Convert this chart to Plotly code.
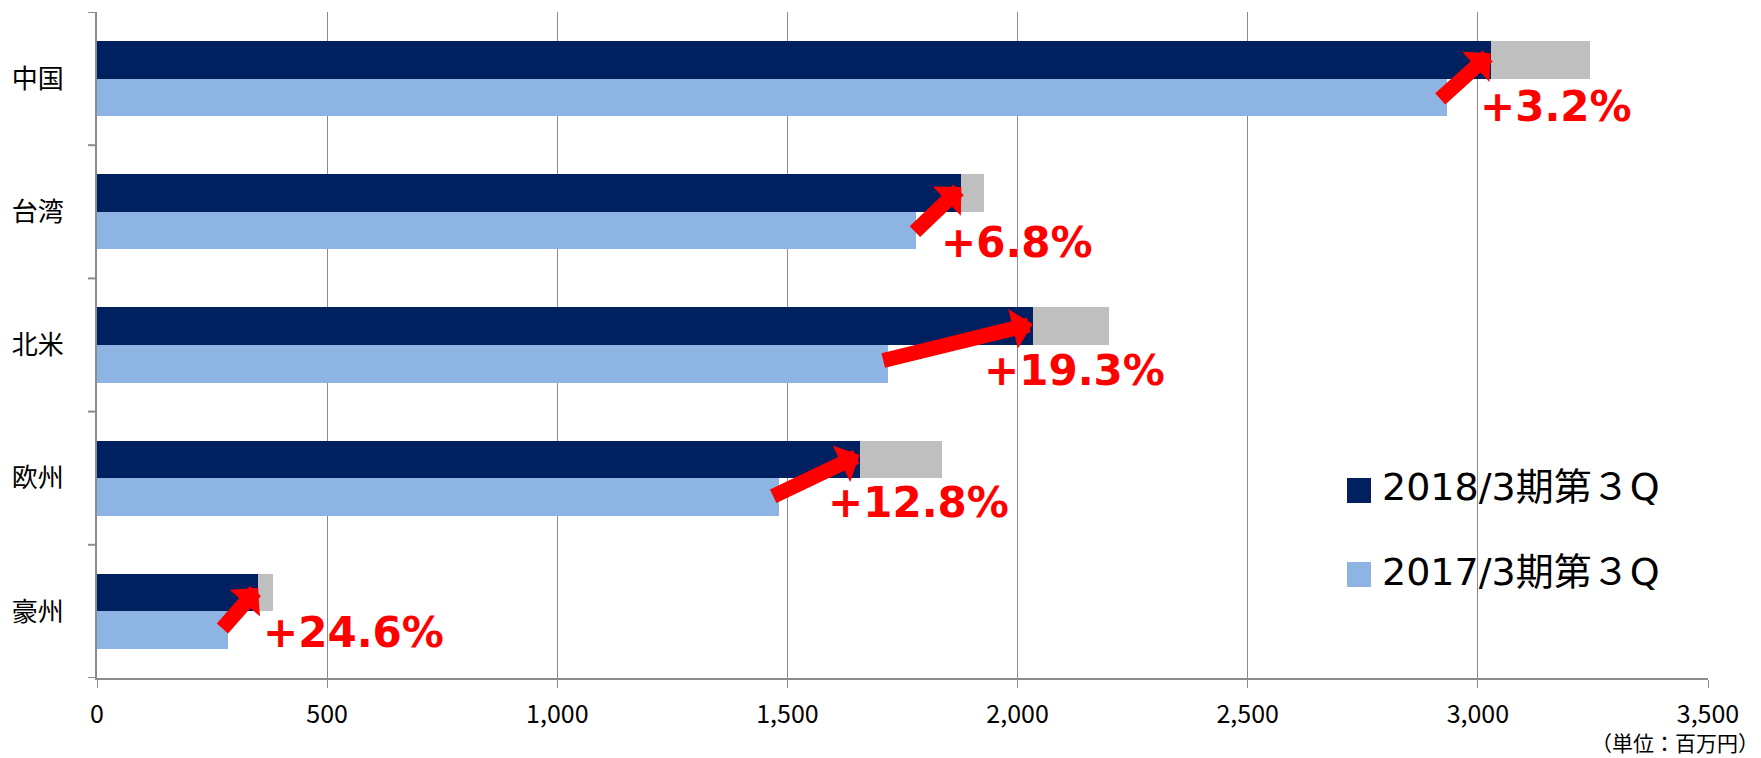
import plotly.graph_objects as go

# ---- data ----
regions = ["中国", "台湾", "北米", "欧州", "豪州"]
sales_2018 = [3028, 1878, 2033, 1657, 350]      # 2018/3期第３Q
sales_2017 = [2933, 1780, 1719, 1481, 284]      # 2017/3期第３Q
gray_end = [3243, 1928, 2199, 1836, 383]        # gray box end
growth_labels = ["+3.2%", "+6.8%", "+19.3%", "+12.8%", "+24.6%"]
x_ticks = [0, 500, 1000, 1500, 2000, 2500, 3000, 3500]
series_names = ["2018/3期第３Q", "2017/3期第３Q"]

# ---- styling / placement (not data) ----
DARK = "#002060"
LIGHT = "#8EB4E3"
GRAYBOX = "#BFBFBF"
AXIS = "#8C8C8C"
RED = "#FF0000"
BW = 0.2825
label_pos = [(3000, 0.213), (1830, 0.227), (1923, 0.188), (1584, 0.186), (356, 0.162)]
arrow_pos = [(-0.19, -52, 47), (-0.186, -48, 46), (-0.158, -151, 37), (-0.174, -88, 42), (-0.176, -37, 42)]

idx = list(range(len(regions)))

fig = go.Figure()
fig.add_trace(go.Bar(y=idx, x=sales_2017, orientation="h", name=series_names[1],
                     marker=dict(color=LIGHT, line=dict(width=0)), offset=0, width=BW,
                     showlegend=False))
fig.add_trace(go.Bar(y=idx, x=sales_2018, orientation="h", name=series_names[0],
                     marker=dict(color=DARK, line=dict(width=0)), offset=-BW, width=BW,
                     showlegend=False))
fig.add_trace(go.Bar(y=idx, x=[g - d for g, d in zip(gray_end, sales_2018)], base=sales_2018,
                     orientation="h", marker=dict(color=GRAYBOX, line=dict(width=0)),
                     offset=-BW, width=BW, showlegend=False))

annotations = []
for i in idx:
    lx, ly = label_pos[i]
    annotations.append(dict(x=lx, y=i + ly, xref="x", yref="y", text=growth_labels[i],
                            showarrow=False, xanchor="left", yanchor="middle",
                            font=dict(family="DejaVu Sans", size=42, color=RED, weight="bold")))
    ay_off, ax, ay = arrow_pos[i]
    annotations.append(dict(x=sales_2018[i], y=i + ay_off, xref="x", yref="y", text="",
                            showarrow=True, ax=ax, ay=ay, arrowcolor=RED, arrowwidth=15,
                            arrowhead=1, arrowsize=0.45, standoff=0))

# manual legend
L, R, T, B = 97, 1708, 12, 678
def px(xp):
    return (xp - L) / (R - L)
def py(yp):
    return (B - yp) / (B - T)

shapes = []
legend_rows = [(490.5, DARK, series_names[0]), (574.5, LIGHT, series_names[1])]
for yc, col, name in legend_rows:
    shapes.append(dict(type="rect", xref="paper", yref="paper",
                       x0=px(1347), x1=px(1371), y0=py(yc + 12.5), y1=py(yc - 12.5),
                       fillcolor=col, line=dict(width=0)))
    annotations.append(dict(x=px(1380), y=py(yc - 3), xref="paper", yref="paper", text=name,
                            showarrow=False, xanchor="left", yanchor="middle",
                            font=dict(family="DejaVu Sans, Noto Sans CJK JP", size=38, color="#000000")))

annotations.append(dict(x=px(1760), y=py(758), xref="paper", yref="paper", text="（単位：百万円）",
                        showarrow=False, xanchor="right", yanchor="bottom", borderpad=0,
                        font=dict(family="Noto Sans CJK JP", size=21, color="#000000")))

fig.update_layout(
    width=1761, height=758,
    margin=dict(l=L, r=1761 - R, t=T, b=758 - B),
    paper_bgcolor="white", plot_bgcolor="white",
    barmode="overlay", bargap=0,
    showlegend=False,
    annotations=annotations,
    hovermode=False,
)
fig.update_xaxes(range=[0, 3500], tickvals=x_ticks, ticktext=[f"{v:,}" for v in x_ticks],
                 showgrid=True, gridcolor=AXIS, gridwidth=1.3, zeroline=False,
                 showline=True, linecolor=AXIS, linewidth=2,
                 ticks="outside", ticklen=8, tickcolor=AXIS, tickwidth=1.3,
                 ticklabelstandoff=5,
                 tickfont=dict(family="Liberation Sans Narrow, Noto Sans CJK JP", size=25, color="#000000"))
fig.update_yaxes(tickvals=idx, ticktext=regions, range=[4.5, -0.5],
                 showgrid=False, zeroline=False,
                 showline=True, linecolor=AXIS, linewidth=2,
                 ticks="", ticklabelstandoff=26,
                 tickfont=dict(family="Noto Sans CJK JP", size=26, color="#000000"))
# boundary ticks on the category axis
for b in [-0.5, 0.5, 1.5, 2.5, 3.5, 4.5]:
    shapes.append(dict(type="line", xref="paper", yref="y", x0=-9 / (R - L), x1=0, y0=b, y1=b,
                       line=dict(color=AXIS, width=2)))
fig.update_layout(shapes=shapes)

fig.write_html("out.html")
